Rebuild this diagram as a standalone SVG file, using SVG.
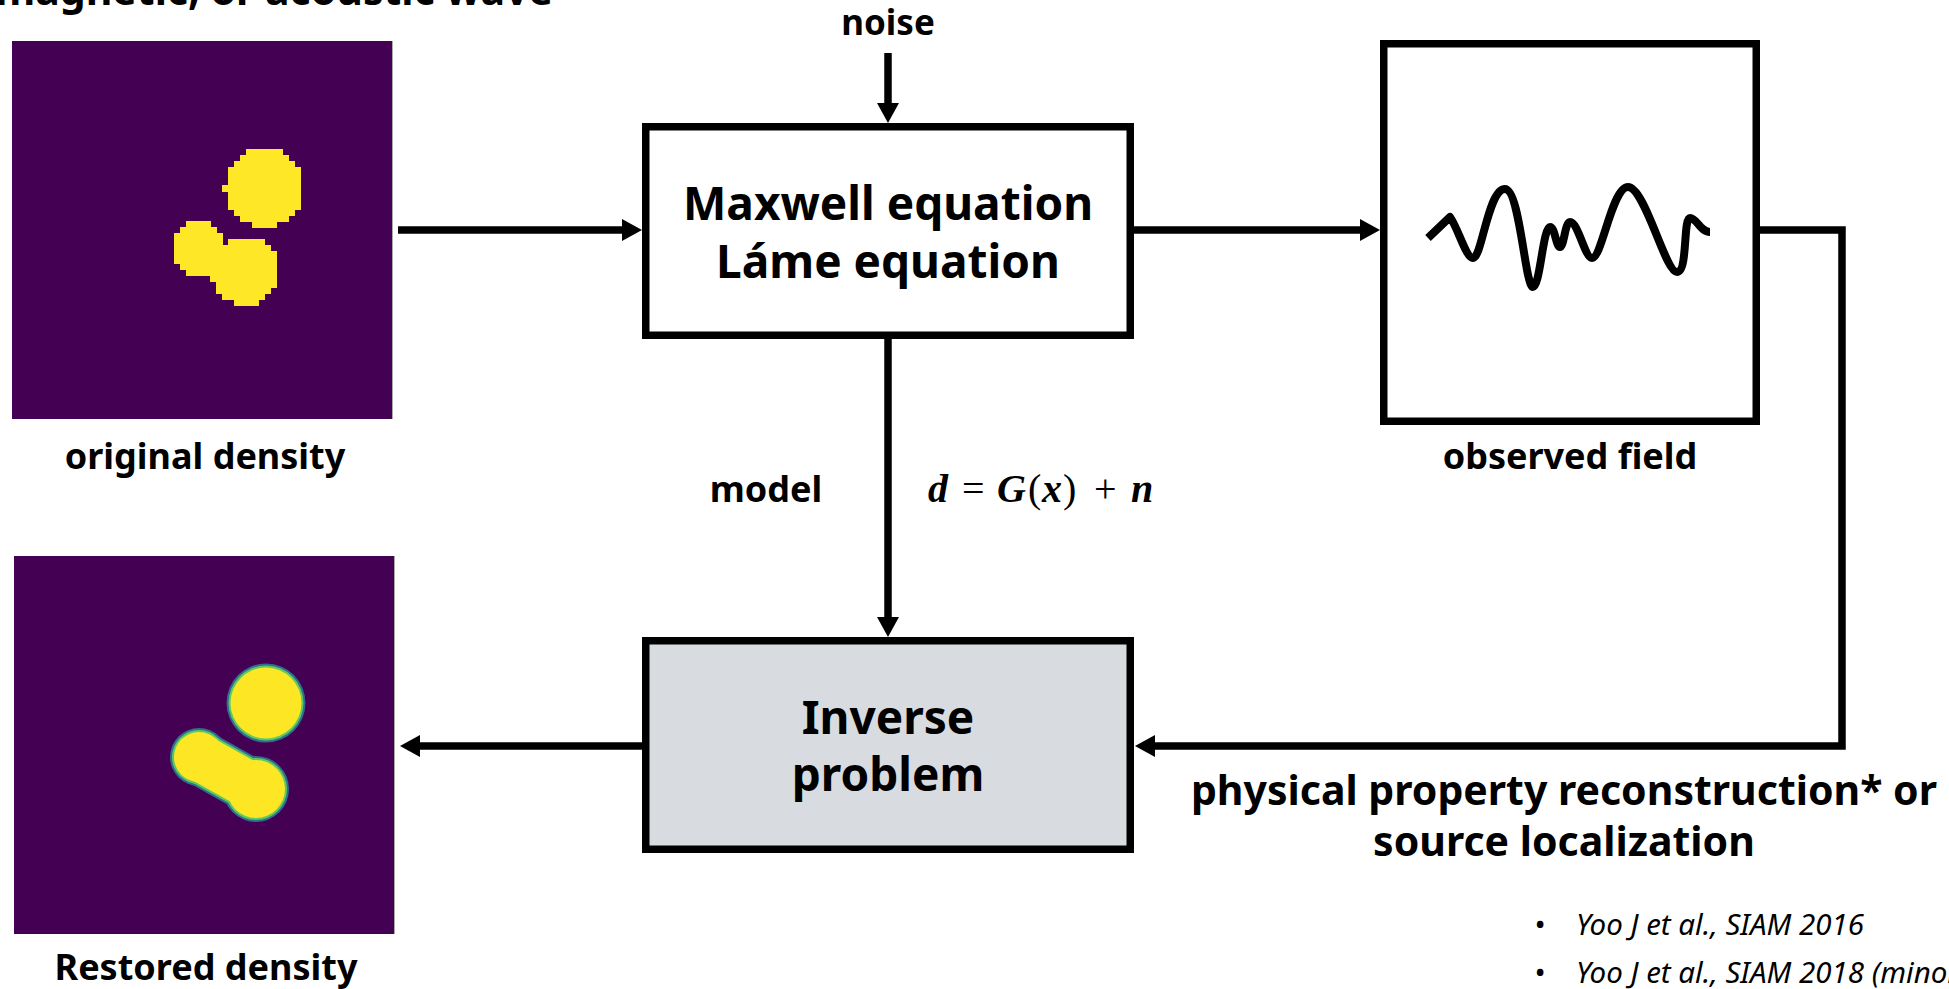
<svg xmlns="http://www.w3.org/2000/svg" width="1949" height="989" viewBox="0 0 1949 989">
<style>
.t{font-family:"Noto Sans","Open Sans","DejaVu Sans",sans-serif;font-weight:bold;fill:#000}
.lbl{font-size:36px;text-anchor:middle}
.big{font-size:46px;text-anchor:middle}
.ref{font-family:"Noto Sans","DejaVu Sans",sans-serif;font-style:italic;font-size:29.5px;fill:#000}
.box{fill:#fff;stroke:#000;stroke-width:7.5}
.conn{fill:none;stroke:#000;stroke-width:7.5}
.eq{font-family:"Liberation Serif","DejaVu Serif",serif;font-size:40px;fill:#000}
.bi{font-weight:bold;font-style:italic}
</style>
<defs>
<marker id="ah" viewBox="0 0 20 22" refX="0" refY="11" markerWidth="20" markerHeight="22" markerUnits="userSpaceOnUse" orient="auto">
<path d="M0,0 L20,11 L0,22 z" fill="#000"/>
</marker>
<filter id="pix" filterUnits="userSpaceOnUse" x="12" y="41" width="381" height="378">
<feFlood x="15" y="44" width="1" height="1" flood-color="#000"/>
<feComposite width="6" height="6"/>
<feTile result="grid"/>
<feComposite in="SourceGraphic" in2="grid" operator="in"/>
<feMorphology operator="dilate" radius="3"/>
</filter>
</defs>
<rect width="1949" height="989" fill="#fff"/>
<text class="t" x="553" y="5" font-size="41" text-anchor="end">magnetic, or acoustic wave</text>

<g id="original">
<rect x="12" y="41" width="381" height="378" fill="#440154"/>
<line x1="392.5" y1="41" x2="392.5" y2="419" stroke="#aaa" stroke-width="1"/>
<g fill="#fde725" filter="url(#pix)" shape-rendering="crispEdges">
<circle cx="264" cy="188" r="39"/>
<circle cx="199" cy="248" r="27"/>
<circle cx="246" cy="271" r="33.5"/>
</g>
<text class="t lbl" x="205" y="469">original density</text>
</g>

<g id="maxwell">
<rect class="box" x="645.75" y="126.75" width="484.5" height="208.5"/>
<text class="t big" x="888" y="220">Maxwell equation</text>
<text class="t big" x="888" y="278">Láme equation</text>
</g>

<g id="noise">
<text class="t" x="888" y="35" font-size="35" text-anchor="middle">noise</text>
</g>

<g id="observed">
<rect class="box" x="1383.75" y="43.75" width="372.5" height="377.5"/>
<path d="M1428,238 L1450,217 C1458,228 1466,258 1473,258 C1482,258 1488,189 1505,189 C1520,189 1525,287 1533,287 C1540,287 1543,227 1550,227 C1555,227 1556,247 1560,247 C1564,247 1565,222 1570,222 C1578,222 1585,258 1592,258 C1602,258 1612,187 1628,187 C1645,187 1665,272 1677,272 C1688,272 1683,218 1690,218 C1697,218 1700,232 1710,232" fill="none" stroke="#000" stroke-width="8" stroke-linejoin="round"/>
<text class="t lbl" x="1570" y="469">observed field</text>
</g>

<g id="inverse">
<rect x="645.75" y="640.75" width="484.5" height="208.5" fill="#d8dbe0" stroke="#000" stroke-width="7.5"/>
<text class="t big" x="888" y="734">Inverse</text>
<text class="t big" x="888" y="791">problem</text>
</g>

<g id="restored">
<rect x="14" y="556" width="381" height="378" fill="#440154"/>
<line x1="394.5" y1="556" x2="394.5" y2="934" stroke="#aaa" stroke-width="1"/>
<g fill="#2f6f8e">
<circle cx="266" cy="703" r="39.5"/>
<circle cx="199" cy="757" r="29"/>
<circle cx="256" cy="789" r="33"/>
<line x1="199" y1="757" x2="256" y2="789" stroke="#2f6f8e" stroke-width="55"/>
</g>
<g fill="#5ec962">
<circle cx="266" cy="703" r="37.5"/>
<circle cx="199" cy="757" r="27"/>
<circle cx="256" cy="789" r="31"/>
<line x1="199" y1="757" x2="256" y2="789" stroke="#5ec962" stroke-width="51"/>
</g>
<g fill="#fde725">
<circle cx="266" cy="703" r="35.5"/>
<circle cx="199" cy="757" r="25"/>
<circle cx="256" cy="789" r="29"/>
<line x1="199" y1="757" x2="256" y2="789" stroke="#fde725" stroke-width="47"/>
</g>
<text class="t lbl" x="206" y="980">Restored density</text>
</g>

<g id="connectors">
<line class="conn" x1="888" y1="53" x2="888" y2="103" marker-end="url(#ah)"/>
<line class="conn" x1="398" y1="230" x2="622" y2="230" marker-end="url(#ah)"/>
<line class="conn" x1="1134" y1="230" x2="1360" y2="230" marker-end="url(#ah)"/>
<line class="conn" x1="888" y1="339" x2="888" y2="617" marker-end="url(#ah)"/>
<polyline class="conn" points="1760,230 1842,230 1842,746 1155,746" marker-end="url(#ah)"/>
<line class="conn" x1="642" y1="746" x2="420" y2="746" marker-end="url(#ah)"/>
</g>

<g id="labels">
<text class="t lbl" x="766" y="502">model</text>
<text class="eq" y="502"><tspan class="bi" x="928">d</tspan><tspan x="962">=</tspan><tspan class="bi" x="997">G</tspan><tspan x="1028">(</tspan><tspan class="bi" x="1042">x</tspan><tspan x="1063">)</tspan><tspan x="1094">+</tspan><tspan class="bi" x="1131">n</tspan></text>
<text class="t" x="1564" y="805" font-size="41" text-anchor="middle">physical property reconstruction* or</text>
<text class="t" x="1564" y="856" font-size="41" text-anchor="middle">source localization</text>
</g>

<g id="references">
<text class="ref" x="1534" y="935">•</text>
<text class="ref" x="1576" y="935">Yoo J et al., SIAM 2016</text>
<text class="ref" x="1534" y="983">•</text>
<text class="ref" x="1576" y="983">Yoo J et al., SIAM 2018 (minor revision)</text>
</g>
</svg>
